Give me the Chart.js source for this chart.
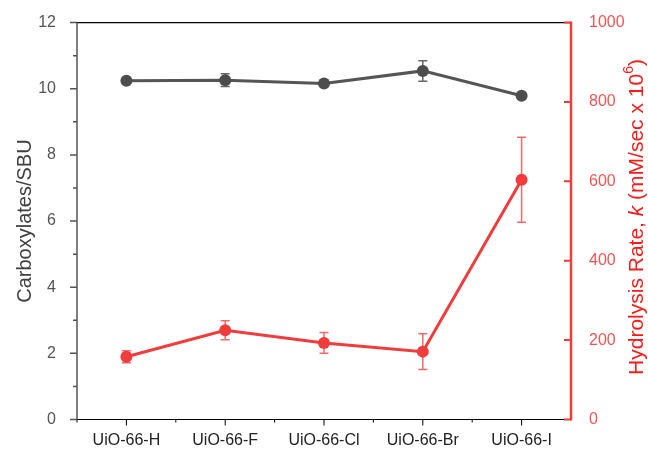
<!DOCTYPE html>
<html>
<head>
<meta charset="utf-8">
<script src="https://cdn.jsdelivr.net/npm/chart.js@4"></script>
<style>
  body { margin: 0; background: #fff; }
  #wrap { width: 648px; height: 450px; }
</style>
</head>
<body>
<div id="wrap"><canvas id="lineChart"></canvas></div>
<script>
// data
const samples = ["UiO-66-H", "UiO-66-F", "UiO-66-Cl", "UiO-66-Br", "UiO-66-I"];
const carboxylates = [10.24, 10.26, 10.16, 10.54, 9.79];     // left axis
const carboxylatesErr = [0.05, 0.19, 0.05, 0.31, 0.05];
const hydrolysisRate = [158, 225, 193, 171, 604];             // right axis, mM/sec x 10^6
const hydrolysisErr = [15, 24, 26, 45, 107];
const leftTicks = [0, 2, 4, 6, 8, 10, 12];
const rightTicks = [0, 200, 400, 600, 800, 1000];

const GREY = "#555555";
const RED = "#f03c3c";
const FONT = "'Liberation Sans', Arial, sans-serif";

// error bars, drawn under the markers
const errorBars = {
  id: "errorBars",
  beforeDatasetsDraw(chart) {
    const ctx = chart.ctx;
    const errs = [carboxylatesErr, hydrolysisErr];
    const colors = ["#666666", "#f46a6a"];
    chart.data.datasets.forEach((ds, di) => {
      const meta = chart.getDatasetMeta(di);
      const yScale = chart.scales[ds.yAxisID];
      ctx.save();
      ctx.strokeStyle = colors[di];
      ctx.lineWidth = 1.5;
      meta.data.forEach((pt, i) => {
        const v = ds.data[i], e = errs[di][i];
        const top = yScale.getPixelForValue(v + e);
        const bot = yScale.getPixelForValue(v - e);
        ctx.beginPath();
        ctx.moveTo(pt.x, top); ctx.lineTo(pt.x, bot);
        ctx.moveTo(pt.x - 4.5, top); ctx.lineTo(pt.x + 4.5, top);
        ctx.moveTo(pt.x - 4.5, bot); ctx.lineTo(pt.x + 4.5, bot);
        ctx.stroke();
      });
      ctx.restore();
    });
  }
};

// frame, ticks and the right axis title
const frame = {
  id: "frame",
  beforeDatasetsDraw(chart) {
    const { ctx, chartArea: a, scales } = chart;
    ctx.save();
    // top and bottom lines
    ctx.strokeStyle = "#000";
    ctx.lineWidth = 1.2;
    ctx.beginPath();
    ctx.moveTo(a.left, a.top); ctx.lineTo(a.right, a.top);
    ctx.moveTo(a.left, a.bottom); ctx.lineTo(a.right, a.bottom);
    ctx.stroke();
    // x ticks: major at categories, minor between
    const x = scales.x;
    const half = (x.getPixelForValue(1) - x.getPixelForValue(0)) / 2;
    ctx.lineWidth = 1;
    ctx.beginPath();
    samples.forEach((s, i) => {
      const px = x.getPixelForValue(i);
      ctx.moveTo(px, a.bottom); ctx.lineTo(px, a.bottom + 6);
      ctx.moveTo(px - half, a.bottom); ctx.lineTo(px - half, a.bottom + 3);
    });
    ctx.stroke();
    // left axis
    const y = scales.y;
    ctx.strokeStyle = GREY;
    ctx.lineWidth = 1.5;
    ctx.beginPath();
    ctx.moveTo(a.left, a.top); ctx.lineTo(a.left, a.bottom);
    for (let v = 0; v <= 12; v++) {
      const py = y.getPixelForValue(v);
      ctx.moveTo(a.left, py); ctx.lineTo(a.left - (v % 2 === 0 ? 7 : 4), py);
    }
    ctx.stroke();
    // right axis, ticks point inward
    const y1 = scales.y1;
    ctx.strokeStyle = RED;
    ctx.lineWidth = 2.5;
    ctx.beginPath();
    ctx.moveTo(a.right, a.top - 1); ctx.lineTo(a.right, a.bottom + 1);
    ctx.stroke();
    ctx.lineWidth = 2;
    ctx.beginPath();
    rightTicks.forEach(v => {
      const py = y1.getPixelForValue(v);
      ctx.moveTo(a.right, py); ctx.lineTo(a.right - 7, py);
    });
    ctx.stroke();

    // right title with italic k and superscript 6
    const parts = [
      { t: "Hydrolysis Rate, ", f: "21px " + FONT, dy: 0 },
      { t: "k", f: "italic 21px " + FONT, dy: 0 },
      { t: " (mM/sec x 10", f: "21px " + FONT, dy: 0 },
      { t: "6", f: "14px " + FONT, dy: -8 },
      { t: ")", f: "21px " + FONT, dy: 0 }
    ];
    let total = 0;
    parts.forEach(p => { ctx.font = p.f; p.w = ctx.measureText(p.t).width; total += p.w; });
    ctx.translate(637, 217);
    ctx.rotate(-Math.PI / 2);
    ctx.fillStyle = "#ff1a1a";
    ctx.textBaseline = "middle";
    let cx = -total / 2;
    parts.forEach(p => {
      ctx.font = p.f;
      ctx.fillText(p.t, cx, p.dy);
      cx += p.w;
    });
    ctx.restore();
  }
};

new Chart(document.getElementById("lineChart"), {
  type: "line",
  data: {
    labels: samples,
    datasets: [
      {
        label: "Carboxylates/SBU",
        data: carboxylates,
        yAxisID: "y",
        borderColor: GREY,
        backgroundColor: "#4d4d4d",
        borderWidth: 3,
        pointRadius: 6,
        pointBorderWidth: 0,
        tension: 0
      },
      {
        label: "Hydrolysis Rate",
        data: hydrolysisRate,
        yAxisID: "y1",
        borderColor: RED,
        backgroundColor: RED,
        borderWidth: 3,
        pointRadius: 6,
        pointBorderWidth: 0,
        tension: 0
      }
    ]
  },
  options: {
    responsive: true,
    maintainAspectRatio: false,
    animation: false,
    layout: { padding: { top: 22.5, left: 0, right: 0, bottom: 0 } },
    plugins: {
      legend: { display: false },
      tooltip: { enabled: false }
    },
    scales: {
      x: {
        offset: true,
        grid: { display: false },
        border: { display: false },
        ticks: { color: "#222", font: { family: FONT, size: 16 }, padding: 3, maxRotation: 0 },
        afterFit: s => { s.height = 30.5; }
      },
      y: {
        position: "left",
        min: 0,
        max: 12,
        afterBuildTicks: s => { s.ticks = leftTicks.map(v => ({ value: v })); },
        grid: { display: false },
        border: { display: false },
        ticks: { color: GREY, font: { family: FONT, size: 16 }, padding: 13 },
        title: {
          display: true,
          text: "Carboxylates/SBU",
          color: "#404040",
          font: { family: FONT, size: 20 },
          padding: { top: 13, bottom: 0 }
        },
        afterFit: s => { s.width = 77; }
      },
      y1: {
        position: "right",
        min: 0,
        max: 1000,
        afterBuildTicks: s => { s.ticks = rightTicks.map(v => ({ value: v })); },
        grid: { display: false },
        border: { display: false },
        ticks: { color: "#f25555", font: { family: FONT, size: 16 }, padding: 10, callback: v => String(v) },
        afterFit: s => { s.width = 77; }
      }
    }
  },
  plugins: [errorBars, frame]
});
</script>
</body>
</html>
